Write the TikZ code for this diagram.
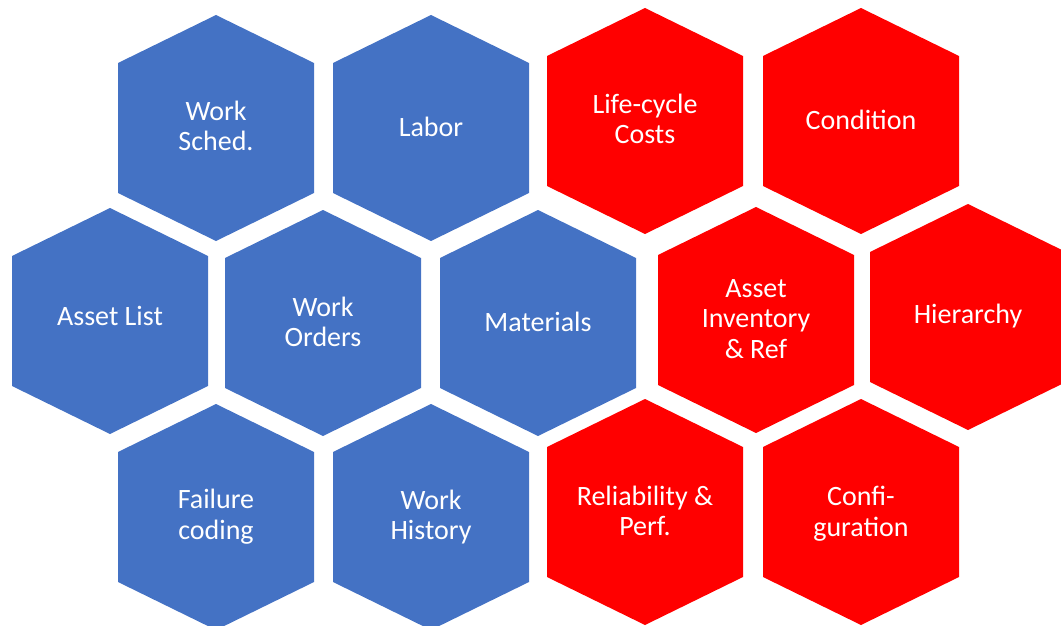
\documentclass[tikz,border=0pt]{standalone}
\usepackage{fontspec}
\setmainfont{Carlito}
\definecolor{cellblue}{RGB}{68,114,196}
\definecolor{cellred}{RGB}{255,0,0}

\begin{document}
\begin{tikzpicture}[x=1pt,y=-1pt,
		hexpath/.style={insert path={+(0,-113) -- +(98,-65) -- +(98,65) -- +(0,113) -- +(-98,65) -- +(-98,-65) -- cycle}},
		bluecell/.style={fill=cellblue},
		redcell/.style={fill=cellred},
		celltext/.style={text=white,align=center,inner sep=0pt,font=\fontsize{28}{30.7}\selectfont}]
		\useasboundingbox (0,0) rectangle (1061,626);

		% top row
		\fill[bluecell]	(216,128) [hexpath];
		\fill[bluecell]	(431,128) [hexpath];
		\fill[redcell]	(645,121) [hexpath];
		\fill[redcell]	(861,121) [hexpath];
		% middle row
		\fill[bluecell]	(110,321) [hexpath];
		\fill[bluecell]	(323,323) [hexpath];
		\fill[bluecell]	(538,323) [hexpath];
		\fill[redcell]	(756,320) [hexpath];
		\fill[redcell]	(968,317) [hexpath];
		% bottom row
		\fill[bluecell]	(216,517) [hexpath];
		\fill[bluecell]	(431,517) [hexpath];
		\fill[redcell]	(645,512) [hexpath];
		\fill[redcell]	(861,512) [hexpath];

		\node[celltext]	(ws)	at (216,126)	{Work\\Sched.};
		\node[celltext]	(lab)	at (431,127)	{Labor};
		\node[celltext]	(lcc)	at (645,119)	{Life-cycle\\Costs};
		\node[celltext]	(cond)	at (861,120)	{Condition};
		\node[celltext]	(al)	at (110,316)	{Asset List};
		\node[celltext]	(wo)	at (323,322)	{Work\\Orders};
		\node[celltext]	(mat)	at (538,322)	{Materials};
		\node[celltext]	(air)	at (756,319)	{Asset\\Inventory\\\& Ref};
		\node[celltext]	(hier)	at (968,316)	{Hierarchy};
		\node[celltext]	(fc)	at (216,517)	{Failure\\coding};
		\node[celltext]	(wh)	at (431,517)	{Work\\History};
		\node[celltext]	(rp)	at (645,511)	{Reliability \&\\Perf.};
		\node[celltext]	(conf)	at (861,514)	{Confi-\\guration};
	\end{tikzpicture}
\end{document}
